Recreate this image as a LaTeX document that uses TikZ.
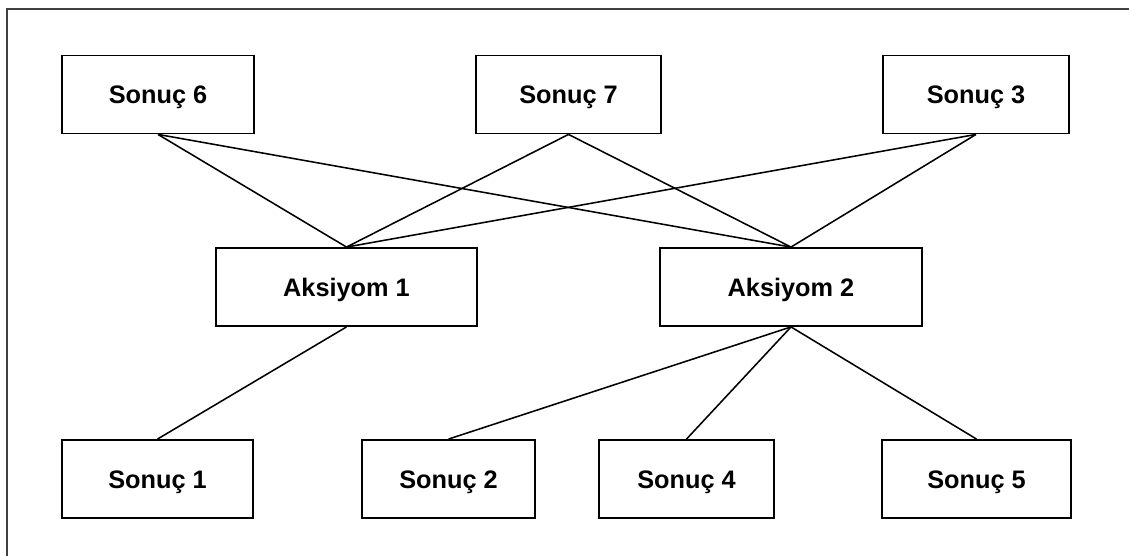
\documentclass[tikz,border=0pt]{standalone}
\usepackage{fontspec}
\setmainfont{Liberation Sans}
\tikzset{
    kutu/.style={draw, line width=1.3pt, minimum height=1.95cm, text height=13pt, text depth=0pt, font=\fontsize{18}{20}\selectfont\bfseries},
    bag/.style={line width=1.1pt}
}
\begin{document}
\begin{tikzpicture}[x=0.025cm,y=-0.025cm]
            \useasboundingbox (0,0) rectangle (1129,556);
            \draw[line width=1.4pt, black!75] (7,556) -- (7,9) -- (1129,9);
            \node[kutu, minimum width=4.8cm] (s6) at (158,94.5) {Sonuç 6};
            \node[kutu, minimum width=4.625cm] (s7) at (568.5,94.5) {Sonuç 7};
            \node[kutu, minimum width=4.65cm] (s3) at (976,94.5) {Sonuç 3};
            \node[kutu, minimum width=6.525cm] (a1) at (346.5,287) {Aksiyom 1};
            \node[kutu, minimum width=6.55cm] (a2) at (791,287) {Aksiyom 2};
            \node[kutu, minimum width=4.775cm] (s1) at (157.5,479) {Sonuç 1};
            \node[kutu, minimum width=4.325cm] (s2) at (448.5,479) {Sonuç 2};
            \node[kutu, minimum width=4.375cm] (s4) at (686.5,479) {Sonuç 4};
            \node[kutu, minimum width=4.725cm] (s5) at (976.5,479) {Sonuç 5};
            \draw[bag] (s6.south) -- (a1.north);
            \draw[bag] (s6.south) -- (a2.north);
            \draw[bag] (s7.south) -- (a1.north);
            \draw[bag] (s7.south) -- (a2.north);
            \draw[bag] (s3.south) -- (a1.north);
            \draw[bag] (s3.south) -- (a2.north);
            \draw[bag] (a1.south) -- (s1.north);
            \draw[bag] (a2.south) -- (s2.north);
            \draw[bag] (a2.south) -- (s4.north);
            \draw[bag] (a2.south) -- (s5.north);
        \end{tikzpicture}
\end{document}
